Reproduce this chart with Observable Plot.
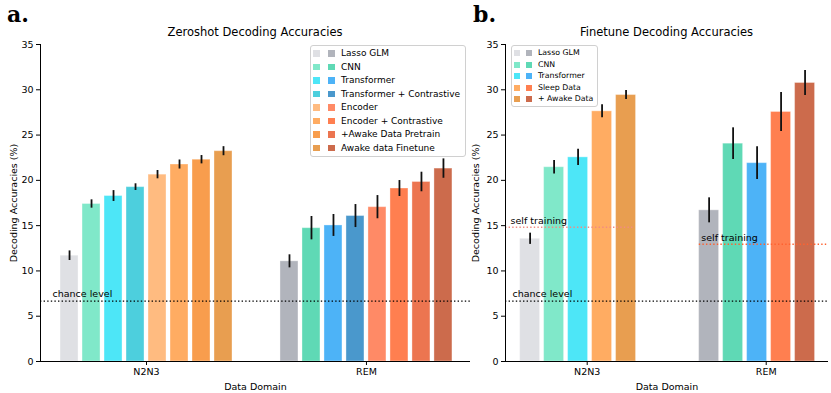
<!DOCTYPE html>
<html>
<head>
<meta charset="utf-8">
<script src="https://cdn.jsdelivr.net/npm/d3@7"></script>
<script src="https://cdn.jsdelivr.net/npm/@observablehq/plot@0.6"></script>
<style>
  body { margin: 0; background: white; }
  #wrap { position: relative; width: 831px; height: 393px; font-family: "DejaVu Sans", sans-serif; color: #000; overflow: hidden; }
  .abs { position: absolute; }
  .panel-letter { font-family: "DejaVu Serif", serif; font-weight: bold; font-size: 22px; line-height: 22px; }
  .title { font-size: 11.5px; line-height: 13px; white-space: nowrap; transform: translateX(-50%); }
  .legend { border: 1px solid #d0d0d0; border-radius: 3px; background: rgba(255,255,255,0.85); box-sizing: border-box; }
  .legend .sw { display: inline-block; }
</style>
</head>
<body>
<div id="wrap"></div>
<script>
// ---------------- data ----------------
const domains = ["N2N3", "REM"];
const yTicks = [0, 5, 10, 15, 20, 25, 30, 35];

const zeroshotModels = ["Lasso GLM", "CNN", "Transformer", "Transformer + Contrastive", "Encoder", "Encoder + Contrastive", "+Awake Data Pretrain", "Awake data Finetune"];
const zeroshotN2N3 = [11.68, 17.39, 18.27, 19.25, 20.63, 21.75, 22.28, 23.22];
const zeroshotN2N3Err = [0.53, 0.46, 0.6, 0.37, 0.46, 0.5, 0.46, 0.5];
const zeroshotREM = [11.06, 14.72, 15.02, 16.06, 17.04, 19.1, 19.82, 21.3];
const zeroshotREMErr = [0.72, 1.29, 1.21, 1.27, 1.28, 0.88, 1.08, 1.07];
const zeroshotColorsN2N3 = ["#dfe0e4", "#80e8c9", "#4de6f7", "#4dcfdd", "#ffbb80", "#ffac62", "#f89d4d", "#e89e50"];
const zeroshotColorsREM = ["#b1b4bc", "#5fd9b5", "#4db3f7", "#4a98cc", "#ff8a66", "#ff7f50", "#ec7550", "#cc6b4c"];

const finetuneModels = ["Lasso GLM", "CNN", "Transformer", "Sleep Data", "+ Awake Data"];
const finetuneN2N3 = [13.55, 21.45, 22.54, 27.62, 29.42];
const finetuneN2N3Err = [0.62, 0.74, 0.9, 0.72, 0.5];
const finetuneREM = [16.69, 24.05, 21.9, 27.55, 30.75];
const finetuneREMErr = [1.38, 1.75, 1.8, 2.15, 1.38];
const finetuneColorsN2N3 = ["#dfe0e4", "#80e8c9", "#4de6f7", "#ffac62", "#e89e50"];
const finetuneColorsREM = ["#b1b4bc", "#5fd9b5", "#4db3f7", "#ff7f50", "#cc6b4c"];

const chanceLevel = 6.67;
const selfTrainingLevels = [14.83, 12.95];
const selfTrainingColors = ["#f28b82", "#ff6130"];

// ---------------- helpers ----------------
function buildRows(models, vals, errs, colors, barW, center) {
  const rows = [];
  domains.forEach((dom, g) => {
    models.forEach((m, i) => {
      rows.push({domain: dom, model: m, x: g + (i - center) * barW, value: vals[g][i], err: errs[g][i], color: colors[g][i]});
    });
  });
  return rows;
}

function panel({rows, barW, xDomain, width, marginLeft, marginRight, labelOffset, chanceDx, extraMarks}) {
  return Plot.plot({
    width, height: 393,
    marginTop: 44, marginBottom: 32, marginLeft, marginRight,
    style: {background: "transparent", fontFamily: "DejaVu Sans, sans-serif", fontSize: "9.5px", color: "#000", overflow: "visible"},
    x: {type: "linear", domain: xDomain},
    y: {domain: [0, 35]},
    color: {type: "identity"},
    marks: [
      Plot.rectY(rows, {x1: d => d.x - barW / 2, x2: d => d.x + barW / 2, y1: 0, y2: "value", fill: "color", insetLeft: 2, insetRight: 2, stroke: "white", strokeOpacity: 0.35, strokeWidth: 1}),
      Plot.ruleX(rows, {x: "x", y1: d => d.value - d.err, y2: d => d.value + d.err, stroke: "#111", strokeWidth: 1.8}),
      Plot.ruleY([chanceLevel], {stroke: "#000", strokeWidth: 1.4, strokeDasharray: "1.4,2.2"}),
      Plot.text(["chance level"], {x: () => xDomain[0], y: () => chanceLevel, text: d => d, textAnchor: "start", dx: chanceDx, dy: -7, fontSize: 9.5}),
      ...(extraMarks || []),
      Plot.ruleY([0], {stroke: "#000", strokeWidth: 1}),
      Plot.ruleX([xDomain[0]], {stroke: "#000", strokeWidth: 1}),
      Plot.axisY({ticks: yTicks, tickSize: 4, tickPadding: 3, label: "Decoding Accuracies (%)", labelAnchor: "center", labelOffset, labelArrow: "none"}),
      Plot.axisX({ticks: [0, 1], tickFormat: i => domains[i], tickSize: 4, tickPadding: 3, label: "Data Domain", labelAnchor: "center", labelOffset: 28, labelArrow: "none"})
    ]
  });
}

const wrap = document.getElementById("wrap");

// ---------------- panel a ----------------
const barWA = 0.1;
const rowsA = buildRows(zeroshotModels, [zeroshotN2N3, zeroshotREM], [zeroshotN2N3Err, zeroshotREMErr], [zeroshotColorsN2N3, zeroshotColorsREM], barWA, (zeroshotModels.length - 1) / 2);
const xDomA = [-0.482, 1.473];
const chartA = panel({rows: rowsA, barW: barWA, xDomain: xDomA, width: 475, marginLeft: 40, marginRight: 5, labelOffset: 30, chanceDx: 12});
chartA.style.position = "absolute"; chartA.style.left = "0px"; chartA.style.top = "0px";
wrap.appendChild(chartA);

// ---------------- panel b ----------------
const barWB = 0.134;
const rowsB = buildRows(finetuneModels, [finetuneN2N3, finetuneREM], [finetuneN2N3Err, finetuneREMErr], [finetuneColorsN2N3, finetuneColorsREM], barWB, 2.38);
const xDomB = [-0.4564, 1.348];
const fracB = f => xDomB[0] + f * (xDomB[1] - xDomB[0]);
const selfRows = [
  {level: selfTrainingLevels[0], x1: fracB(0), x2: fracB(0.4), color: selfTrainingColors[0]},
  {level: selfTrainingLevels[1], x1: fracB(0.6), x2: fracB(1), color: selfTrainingColors[1]}
];
const extraB = [
  Plot.ruleY(selfRows, {y: "level", x1: "x1", x2: "x2", stroke: "color", strokeWidth: 1.4, strokeDasharray: "1.4,2.2"}),
  Plot.text(selfRows.slice(0, 1), {x: "x1", y: "level", text: () => "self training", textAnchor: "start", dx: 5, dy: -6, fontSize: 9.5}),
  Plot.text(selfRows.slice(1), {x: "x1", y: "level", text: () => "self training", textAnchor: "start", dx: 2, dy: -6, fontSize: 9.5})
];
const chartB = panel({rows: rowsB, barW: barWB, xDomain: xDomB, width: 371, marginLeft: 45, marginRight: 3, labelOffset: 33, chanceDx: 7, extraMarks: extraB});
chartB.style.position = "absolute"; chartB.style.left = "460px"; chartB.style.top = "0px";
wrap.appendChild(chartB);

// ---------------- texts ----------------
function addDiv(cls, text, left, top) {
  const d = document.createElement("div");
  d.className = "abs " + cls;
  d.textContent = text;
  d.style.left = left + "px";
  d.style.top = top + "px";
  wrap.appendChild(d);
  return d;
}
addDiv("panel-letter", "a.", 7, 3);
addDiv("panel-letter", "b.", 473, 3);
addDiv("title", "Zeroshot Decoding Accuracies", 255, 26);
addDiv("title", "Finetune Decoding Accuracies", 666.5, 26);

// ---------------- legends ----------------
function legend(models, c1, c2, box, rowH, firstRowCenter, sw1, sw2, textX, fontSize, swSize) {
  const lg = document.createElement("div");
  lg.className = "abs legend";
  Object.assign(lg.style, {left: box.left + "px", top: box.top + "px", width: box.width + "px", height: box.height + "px"});
  models.forEach((m, i) => {
    const cy = firstRowCenter + i * rowH - box.top;
    const mk = (color, x) => {
      const s = document.createElement("div");
      s.className = "abs sw";
      Object.assign(s.style, {left: (x - box.left - 1) + "px", top: (cy - swSize / 2 - 1) + "px", width: swSize + "px", height: swSize + "px", background: color});
      lg.appendChild(s);
    };
    mk(c1[i], sw1); mk(c2[i], sw2);
    const t = document.createElement("div");
    t.className = "abs";
    t.textContent = m;
    Object.assign(t.style, {left: (textX - box.left - 1) + "px", top: (cy - fontSize * 0.6 - 1) + "px", fontSize: fontSize + "px", lineHeight: (fontSize * 1.2) + "px", whiteSpace: "nowrap"});
    lg.appendChild(t);
  });
  wrap.appendChild(lg);
}
legend(zeroshotModels, zeroshotColorsN2N3, zeroshotColorsREM, {left: 310, top: 45, width: 156, height: 112}, 13.5, 53.5, 313, 328, 341, 9, 6.5);
legend(finetuneModels, finetuneColorsN2N3, finetuneColorsREM, {left: 511, top: 45, width: 87, height: 62}, 11.5, 53, 514, 526, 538, 7.8, 6);
</script>
</body>
</html>
